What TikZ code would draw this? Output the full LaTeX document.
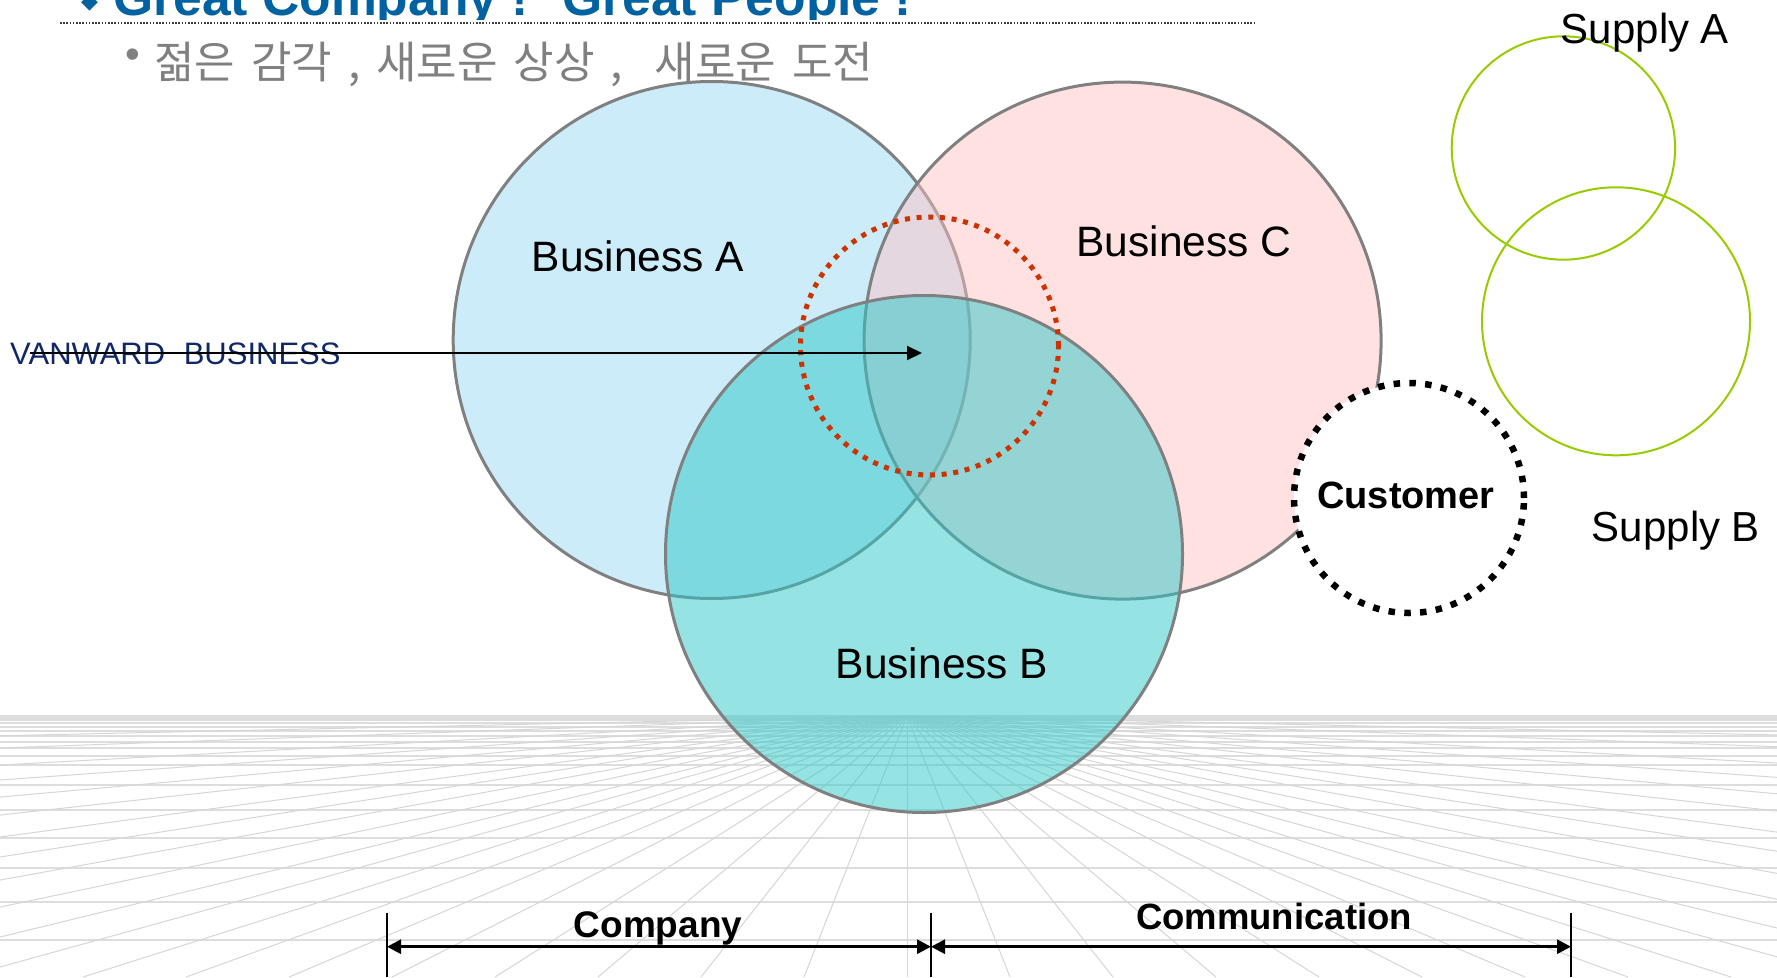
\documentclass[tikz,border=0pt]{standalone}
\usepackage{fontspec}
\setmainfont{Liberation Sans}
\newfontfamily\krfont{Noto Sans CJK KR}
\newfontfamily\symfont{DejaVu Sans}
\usetikzlibrary{arrows.meta}
\definecolor{titleblue}{RGB}{0,98,160}
\definecolor{vanblue}{RGB}{16,40,104}
\definecolor{afill}{RGB}{204,236,250}
\definecolor{cfill}{RGB}{255,193,193}
\definecolor{bfill}{RGB}{45,200,200}
\definecolor{ringgray}{RGB}{128,128,128}
\definecolor{reddot}{RGB}{204,51,0}
\definecolor{supgreen}{RGB}{153,204,0}
\definecolor{gridhcol}{RGB}{221,221,221}
\definecolor{gridrcol}{RGB}{214,214,214}
\definecolor{krgray}{RGB}{128,128,128}
\definecolor{rulegray}{RGB}{64,64,64}
\begin{document}
\begin{tikzpicture}[x=1pt,y=-1pt,
  venn/.style={circle, inner sep=0pt, outer sep=0pt, minimum size=517pt, draw=ringgray, line width=3pt},
  ring/.style={circle, inner sep=0pt, outer sep=0pt},
  lbl/.style={inner sep=0pt, anchor=base, font=\fontsize{42.5}{50}\selectfont},
  boldlbl/.style={inner sep=0pt, anchor=base, font=\fontsize{37}{44}\selectfont\bfseries},
  gridh/.style={draw=gridhcol, line width=1.8pt},
  gridr/.style={draw=gridrcol, line width=1pt},
  pointer/.style={line width=2pt, -{Triangle[length=15pt,width=14pt]}},
  spanarrow/.style={line width=2.7pt, {Triangle[length=14pt,width=14pt]}-{Triangle[length=14pt,width=14pt]}},
  tickline/.style={line width=1.4pt}
]
\useasboundingbox (0,0) rectangle (1777,977);
\fill[white] (0,0) rectangle (1777,977);

% perspective floor grid
\coordinate (vp) at (907,716);
\begin{scope}
\clip (0,715) rectangle (1777,977);
\foreach \yy in {716,718,720,723,727,731,736,742,748,756,765,785,810,838,868,902,940}
  \draw[gridh] (0,\yy) -- (1777,\yy);
\draw[gridr] (vp) -- ++(0,261);
\foreach \o in {103,206,309,412,515,618,721,824,943,1071,1239,1443,1679,1956,2390,2920,3700,4830,7400,12000}{
  \pgfmathsetmacro\f{min(1,1000/\o)}
  \draw[gridr] (vp) -- ++(\o*\f,261*\f);
  \draw[gridr] (vp) -- ++(-\o*\f,261*\f);
}
\end{scope}

% title
\begin{scope}
\clip (0,-20) rectangle (1777,19.5);
\node[inner sep=0pt, text=titleblue, font=\symfont\fontsize{22}{26}\selectfont] (diam) at (89.5,2.5) {◆};
\node[inner sep=0pt, anchor=base west, text=titleblue, font=\fontsize{51.6}{60}\selectfont\bfseries] (title) at (113,15) {Great Company ! ~Great People !};
\end{scope}
\coordinate (ruleL) at (60,23);
\coordinate (ruleR) at (1255,23);
\draw[rulegray, line width=1.6pt, dash pattern=on 1.6pt off 1.6pt] (ruleL) -- (ruleR);

\node[inner sep=0pt, text=krgray, font=\fontsize{42}{50}\selectfont] (bul) at (133,59) {•};
\node[inner sep=0pt, anchor=base west, text=krgray, font=\krfont\fontsize{44}{50}\selectfont] (slogan) at (154,78) {\spaceskip=16pt\relax 젊은 감각 , 새로운 상상 , ~새로운 도전};

% venn circles
\node[venn, fill=afill] (bizA) at (711.7,340) {};
\node[venn, fill=cfill, fill opacity=0.47] (bizC) at (1122.6,340.6) {};
\node[venn, fill=bfill, fill opacity=0.5] (bizB) at (924,554) {};
\node[ring, minimum size=258pt, draw=reddot, line width=5pt, dash pattern=on 5pt off 6.7pt] (core) at (929.5,346) {};

\node[ring, minimum size=230pt, fill=white, draw=black, line width=6.5pt, dash pattern=on 6.5pt off 9.3pt] (cust) at (1409,498) {};
\node[ring, minimum size=223.4pt, draw=supgreen, line width=2pt] (supA) at (1563.4,148) {};
\node[ring, minimum size=268pt, draw=supgreen, line width=2pt] (supB) at (1616,321.3) {};

% labels
\node[lbl] (labA) at (638,271) {Business A};
\node[lbl] (labC) at (1184,256) {Business C};
\node[lbl] (labB) at (942,678) {Business B};
\node[boldlbl, font=\fontsize{38}{44}\selectfont\bfseries] (labCust) at (1406,508) {Customer};
\node[lbl, font=\fontsize{42}{50}\selectfont] (labSA) at (1645,43) {Supply A};
\node[lbl, font=\fontsize{42}{50}\selectfont] (labSB) at (1676,541) {Supply B};

% vanward pointer
\node[inner sep=0pt, anchor=base west, text=vanblue, font=\fontsize{31}{36}\selectfont] (van) at (10,364) {VANWARD \hspace{10pt}BUSINESS};
\coordinate (vanStart) at (30,353);
\coordinate (vanEnd) at (922,353);
\draw[pointer] (vanStart) -- (vanEnd);

% bottom dimension arrows
\coordinate (t1) at (387,946.7);
\coordinate (t2) at (931,946.7);
\coordinate (t3) at (1571,946.7);
\coordinate (t1top) at (387,913);
\coordinate (t2top) at (931,913);
\coordinate (t3top) at (1571,913);
\coordinate (t1bot) at (387,977);
\coordinate (t2bot) at (931,977);
\coordinate (t3bot) at (1571,977);
\draw[tickline] (t1top) -- (t1bot);
\draw[tickline] (t2top) -- (t2bot);
\draw[tickline] (t3top) -- (t3bot);
\draw[spanarrow] (t1) -- (t2);
\draw[spanarrow] (t2) -- (t3);
\node[boldlbl] (labCo) at (658,937) {Company};
\node[boldlbl, font=\fontsize{36.5}{44}\selectfont\bfseries] (labComm) at (1274,929) {Communication};
\end{tikzpicture}
\end{document}
